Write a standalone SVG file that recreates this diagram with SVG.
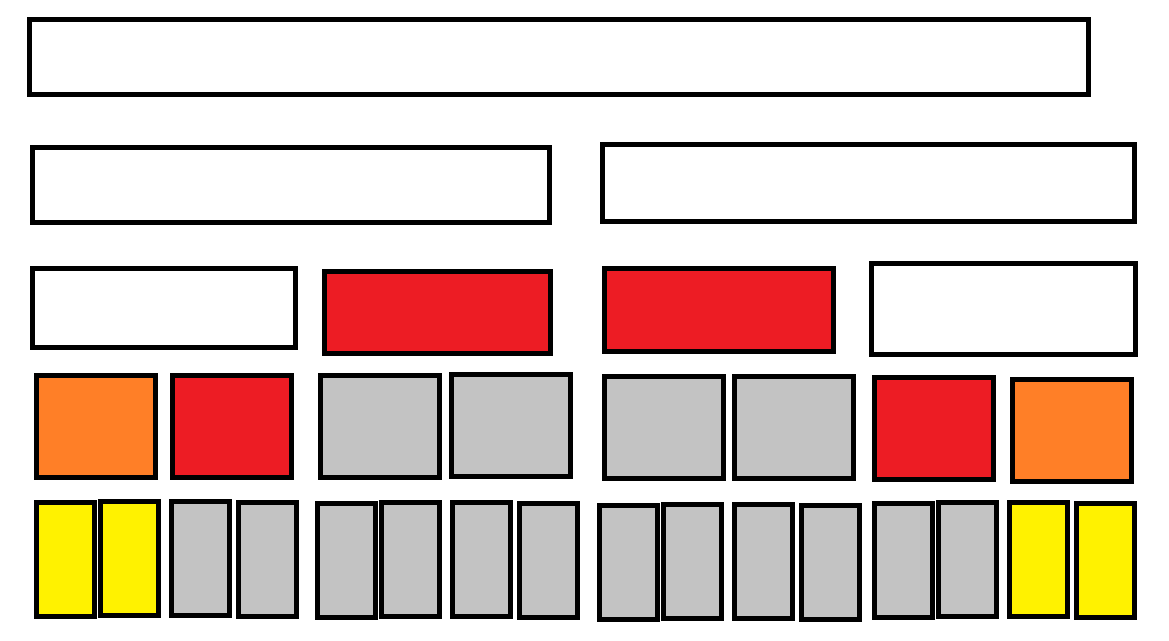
<svg xmlns="http://www.w3.org/2000/svg" width="1169" height="641" viewBox="0 0 1169 641">
<style>
rect{stroke:#000;stroke-width:5}
.w{fill:#fff}.r{fill:#ED1C24}.o{fill:#FF7F27}.g{fill:#C3C3C3}.y{fill:#FFF200}
</style>
<rect x="0" y="0" width="1169" height="641" fill="#fff" style="stroke:none"/>
<g id="row1"><rect id="top" class="w" x="29.5" y="19.5" width="1059" height="75"/></g>
<g id="row2">
<rect id="l2a" class="w" x="32.5" y="147.5" width="517" height="75"/>
<rect id="l2b" class="w" x="602.5" y="144.5" width="532" height="77"/>
</g>
<g id="row3">
<rect id="l3a" class="w" x="32.5" y="268.5" width="263" height="79"/>
<rect id="l3b" class="r" x="324.5" y="271.5" width="226" height="82"/>
<rect id="l3c" class="r" x="604.5" y="268.5" width="229" height="83"/>
<rect id="l3d" class="w" x="871.5" y="263.5" width="264" height="91"/>
</g>
<g id="row4">
<rect id="l4a" class="o" x="36.5" y="375.5" width="119" height="102"/>
<rect id="l4b" class="r" x="172.5" y="375.5" width="119" height="102"/>
<rect id="l4c" class="g" x="320.5" y="375.5" width="119" height="102"/>
<rect id="l4d" class="g" x="451.5" y="374.5" width="119" height="102"/>
<rect id="l4e" class="g" x="604.5" y="376.5" width="119" height="102"/>
<rect id="l4f" class="g" x="734.5" y="376.5" width="119" height="102"/>
<rect id="l4g" class="r" x="874.5" y="377.5" width="119" height="102"/>
<rect id="l4h" class="o" x="1012.5" y="379.5" width="119" height="102"/>
</g>
<g id="row5">
<rect id="l5a" class="y" x="36.5" y="502.5" width="58" height="114"/>
<rect id="l5b" class="y" x="100.5" y="501.5" width="58" height="114"/>
<rect id="l5c" class="g" x="171.5" y="501.5" width="58" height="114"/>
<rect id="l5d" class="g" x="238.5" y="502.5" width="58" height="114"/>
<rect id="l5e" class="g" x="317.5" y="503.5" width="58" height="114"/>
<rect id="l5f" class="g" x="381.5" y="502.5" width="58" height="114"/>
<rect id="l5g" class="g" x="452.5" y="502.5" width="58" height="114"/>
<rect id="l5h" class="g" x="519.5" y="503.5" width="58" height="114"/>
<rect id="l5i" class="g" x="599.5" y="505.5" width="58" height="114"/>
<rect id="l5j" class="g" x="663.5" y="504.5" width="58" height="114"/>
<rect id="l5k" class="g" x="734.5" y="504.5" width="58" height="114"/>
<rect id="l5l" class="g" x="801.5" y="505.5" width="58" height="114"/>
<rect id="l5m" class="g" x="874.5" y="503.5" width="58" height="114"/>
<rect id="l5n" class="g" x="938.5" y="502.5" width="58" height="114"/>
<rect id="l5o" class="y" x="1009.5" y="502.5" width="58" height="114"/>
<rect id="l5p" class="y" x="1076.5" y="503.5" width="58" height="114"/>
</g>
<g id="connectors"></g>
</svg>
